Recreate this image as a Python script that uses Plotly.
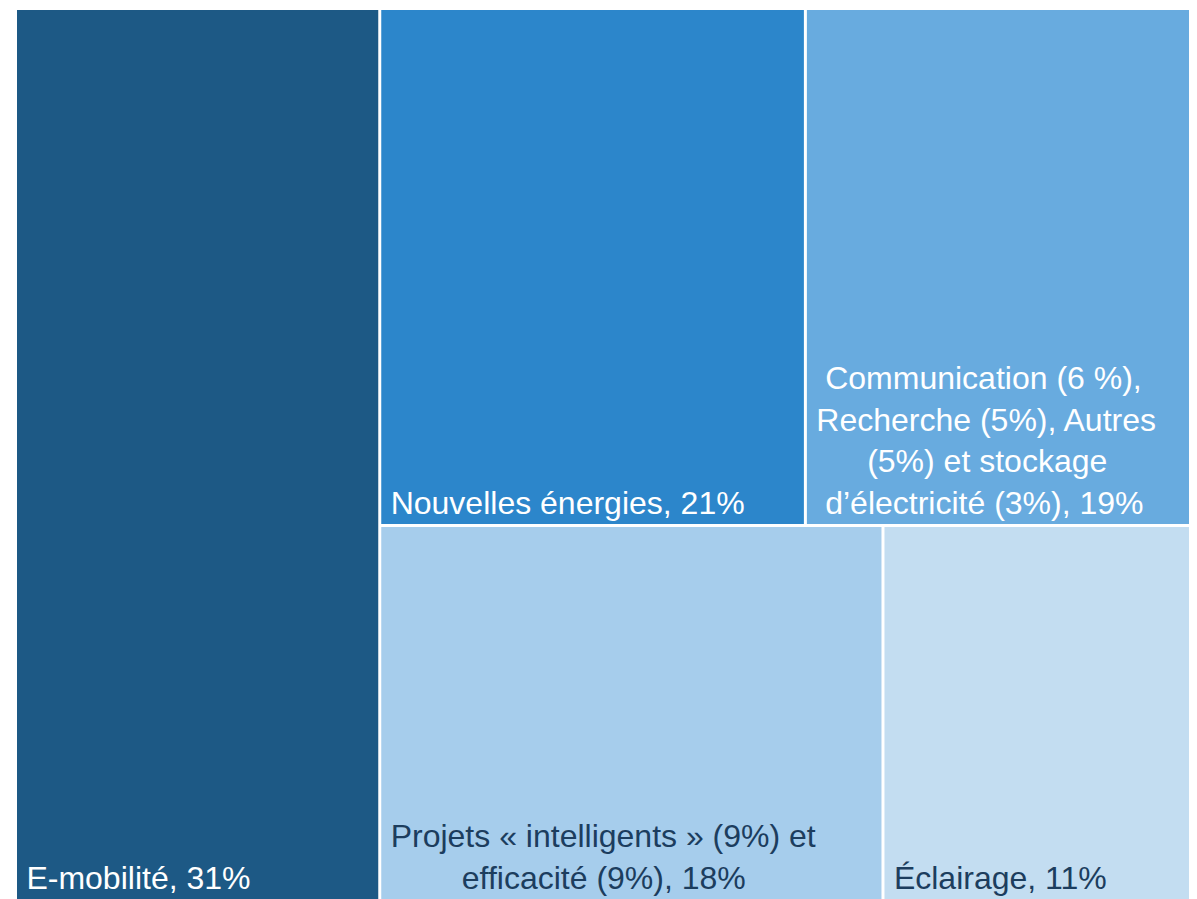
import plotly.graph_objects as go

NB = "\u00a0"
THIN = "\u2009"

# categories (the "Groupe" node is only a layout container, it has no label of its own)
labels = [
    "E-mobilité",
    "Groupe",
    "Nouvelles énergies",
    "Communication",
    "Projets",
    "Éclairage",
]
parents = ["", "", "Groupe", "Groupe", "Groupe", "Groupe"]
values = [31, 69, 21, 19, 18, 11]
text_lines = [
    ["E-mobilité, 31%"],
    [""],
    ["Nouvelles énergies, 21%"],
    ["Communication (6 %),", "Recherche (5%), Autres", "(5%) et stockage", "d’électricité (3%), 19%"],
    ["Projets « intelligents » (9%) et", "efficacité (9%), 18%"],
    ["Éclairage, 11%"],
]
# leading spaces so the lines look centred on each other
line_indent = [
    [""],
    [""],
    [""],
    [NB, "", NB * 5 + THIN, NB],
    ["", NB * 8],
    [""],
]
colors = ["#1d5985", "#ffffff", "#2c86cb", "#68abdf", "#a6cdec", "#c3ddf1"]
text_colors = ["#ffffff", "#ffffff", "#ffffff", "#ffffff", "#1c3d5e", "#1c3d5e"]

texts = []
for lines, ind in zip(text_lines, line_indent):
    if lines == [""]:
        texts.append("")
        continue
    texts.append("<br>".join(THIN + pre + s for s, pre in zip(lines, ind)))

fig = go.Figure(go.Treemap(
    labels=labels,
    parents=parents,
    values=values,
    text=texts,
    textinfo="text",
    branchvalues="total",
    sort=False,
    textposition="bottom left",
    textfont=dict(family="Liberation Sans, Arial", size=32, color=text_colors),
    marker=dict(colors=colors, line=dict(width=0), pad=dict(t=0, l=0, r=0, b=0)),
    tiling=dict(packing="squarify", pad=3),
    pathbar=dict(visible=False),
    hoverinfo="text",
))

fig.update_layout(
    width=1181,
    height=891,
    margin=dict(l=9, r=0, t=2, b=0),
    paper_bgcolor="#ffffff",
)

fig.write_html("out.html")
